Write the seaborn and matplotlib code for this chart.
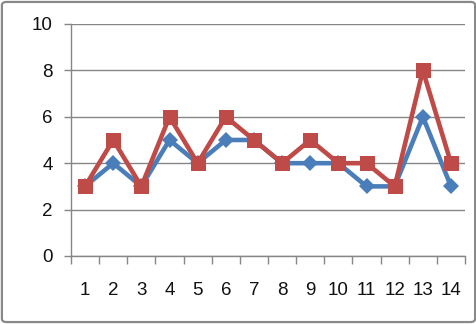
from matplotlib import pyplot as plt
from matplotlib.patches import FancyBboxPatch
import pandas as pd
import seaborn as sns

# values
categories = list(range(1, 15))
series_a = [3, 4, 3, 5, 4, 5, 5, 4, 4, 4, 3, 3, 6, 3]
series_b = [3, 5, 3, 6, 4, 6, 5, 4, 5, 4, 4, 3, 8, 4]
y_ticks = [0, 2, 4, 6, 8, 10]

df = pd.DataFrame({
    "x": categories * 2,
    "y": series_a + series_b,
    "series": ["A"] * len(series_a) + ["B"] * len(series_b),
})

sns.set_style("white")
plt.rcParams["font.family"] = ["Liberation Sans", "DejaVu Sans"]

fig = plt.figure(figsize=(4.77, 3.24), dpi=100)
ax = fig.add_axes([0.1488, 0.2099, 0.8262, 0.7161])

sns.lineplot(data=df, x="x", y="y", hue="series", style="series",
             palette={"A": "#4A7EBB", "B": "#BE4B48"},
             markers={"A": "D", "B": "s"}, dashes=False,
             markersize=10.8, markeredgewidth=0, linewidth=3.3,
             legend=False, ax=ax)
# diamonds a bit smaller than the squares
ax.lines[0].set_markersize(8.5)

ax.set_xlim(0.5, 14.5)
ax.set_ylim(0, 10)
ax.set_yticks(y_ticks)
ax.set_xticks(categories)
ax.set_xticks([c + 0.5 for c in [0] + categories], minor=True)
ax.set_xlabel("")
ax.set_ylabel("")
ax.grid(axis="y", color="#868686", linewidth=1)
ax.set_axisbelow(True)

for side in ["top", "right"]:
    ax.spines[side].set_visible(False)
for side in ["left", "bottom"]:
    ax.spines[side].set_color("#868686")
    ax.spines[side].set_linewidth(1)

ax.tick_params(axis="y", which="major", length=5, width=1, color="#868686",
               direction="out", pad=8, labelsize=13.5, labelcolor="#111111", left=True)
ax.tick_params(axis="x", which="major", length=0, pad=19, labelsize=13.5,
               labelcolor="#111111")
ax.tick_params(axis="x", which="minor", length=6, width=1, color="#868686",
               direction="out", bottom=True)

# rounded chart-area border
frame = FancyBboxPatch((0.004, 0.006), 0.992, 0.988, boxstyle="round,pad=0,rounding_size=0.01",
                       transform=fig.transFigure, fill=False, edgecolor="#898989",
                       linewidth=1.6)
fig.patches.append(frame)

fig.savefig("out.png", dpi=100)
